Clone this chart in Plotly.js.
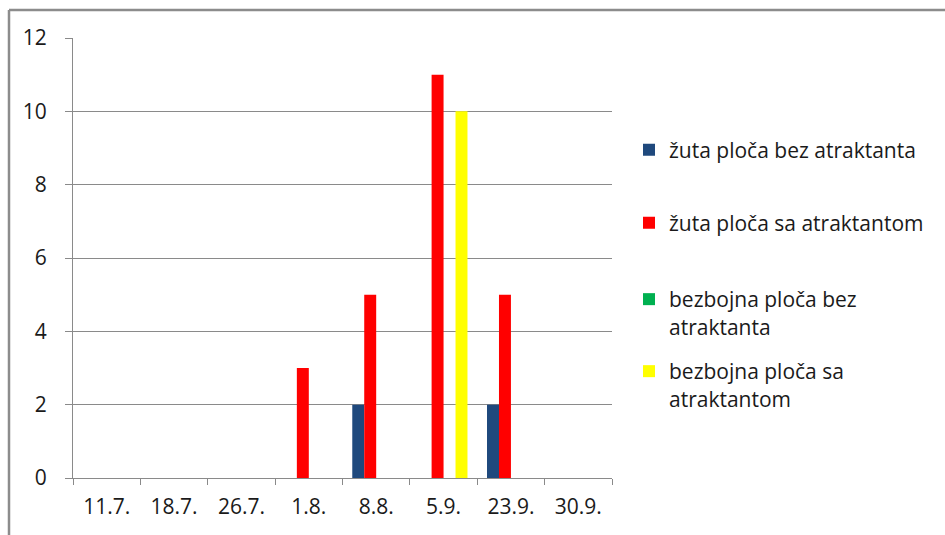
<!DOCTYPE html>
<html>
<head>
<meta charset="utf-8">
<script src="https://cdn.plot.ly/plotly-3.0.1.min.js"></script>
<style>
  html, body { margin: 0; padding: 0; background: #fff; }
  #chart { width: 945px; height: 535px; }
</style>
</head>
<body>
<div id="chart"></div>
<script>
// Sampling dates
const dates = ['11.7.', '18.7.', '26.7.', '1.8.', '8.8.', '5.9.', '23.9.', '30.9.'];

// Catches per trap type
const zutaBez = [0, 0, 0, 0, 2, 0, 2, 0];
const zutaSa = [0, 0, 0, 3, 5, 11, 5, 0];
const bezbojnaBez = [0, 0, 0, 0, 0, 0, 0, 0];
const bezbojnaSa = [0, 0, 0, 0, 0, 10, 0, 0];

const seriesNames = [
  'žuta ploča bez atraktanta',
  'žuta ploča sa atraktantom',
  'bezbojna ploča bez<br>atraktanta',
  'bezbojna ploča sa<br>atraktantom'
];
const seriesValues = [zutaBez, zutaSa, bezbojnaBez, bezbojnaSa];
const seriesColors = ['#1f497d', '#ff0000', '#00b050', '#ffff00'];

const FONT = '"Open Sans", "DejaVu Sans", sans-serif';
const FS = 21;
const TXT = '#1a1a1a';
const GRID = '#8a8a8a';

// Plot area in pixels (for placing the legend entries)
const M = { l: 73, r: 333, t: 38, b: 57 };
const W = 945, H = 535;
const pw = W - M.l - M.r, ph = H - M.t - M.b;
const px = v => (v - M.l) / pw;
const py = v => (H - M.b - v) / ph;

const legendIds = ['legend', 'legend2', 'legend3', 'legend4'];
const legendCenters = [150, 223, 313, 385];

const traces = seriesValues.map((vals, i) => ({
  type: 'bar',
  name: seriesNames[i],
  x: dates,
  y: vals,
  marker: { color: seriesColors[i], line: { width: 0 } },
  legend: legendIds[i],
  hoverinfo: 'x+y+name'
}));

const layout = {
  width: W,
  height: H,
  margin: M,
  paper_bgcolor: '#fff',
  plot_bgcolor: '#fff',
  font: { family: FONT, size: FS, color: TXT },
  barmode: 'group',
  bargap: 0.29,
  bargroupgap: 0,
  xaxis: {
    type: 'category',
    tickson: 'boundaries',
    ticks: 'outside',
    ticklen: 6,
    tickcolor: GRID,
    showline: true,
    linecolor: GRID,
    linewidth: 1,
    showgrid: false,
    zeroline: false,
    tickfont: { family: FONT, size: FS, color: TXT },
    ticklabelstandoff: 10
  },
  yaxis: {
    range: [0, 12],
    dtick: 2,
    ticks: 'outside',
    ticklen: 7,
    tickcolor: GRID,
    showline: true,
    linecolor: GRID,
    linewidth: 1,
    showgrid: true,
    gridcolor: GRID,
    gridwidth: 1,
    zeroline: false,
    tickfont: { family: FONT, size: FS, color: TXT },
    ticklabelstandoff: 14
  },
  shapes: [
    // outer chart frame (top and left edges)
    { type: 'line', xref: 'paper', yref: 'paper', x0: px(9), x1: px(W), y0: py(10), y1: py(10),
      line: { color: '#8c8c8c', width: 2.5 } },
    { type: 'line', xref: 'paper', yref: 'paper', x0: px(9), x1: px(9), y0: py(10), y1: py(H),
      line: { color: '#8c8c8c', width: 2.5 } }
  ],
  showlegend: true
};

legendIds.forEach((id, i) => {
  layout[id] = {
    x: px(629),
    xanchor: 'left',
    y: py(legendCenters[i]),
    yanchor: 'middle',
    valign: 'top',
    bgcolor: 'rgba(0,0,0,0)',
    borderwidth: 0,
    font: { family: FONT, size: FS, color: TXT }
  };
});

Plotly.newPlot('chart', traces, layout, { displayModeBar: false, staticPlot: true });
</script>
</body>
</html>
